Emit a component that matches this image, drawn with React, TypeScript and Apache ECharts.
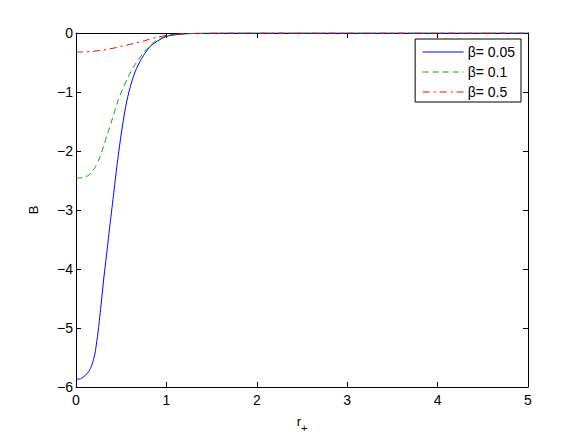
import React, { useEffect, useRef } from "react";
import * as echarts from "echarts";

const seriesNames = ["β= 0.05", "β= 0.1", "β= 0.5"];

const beta005: [number, number][] = [
  [0, -5.87], [0.05, -5.86], [0.1, -5.81], [0.14, -5.74], [0.175, -5.63], [0.21, -5.43],
  [0.25, -4.99], [0.285, -4.49], [0.31, -4.12], [0.335, -3.8], [0.372, -3.3], [0.413, -2.77],
  [0.457, -2.2], [0.505, -1.66], [0.553, -1.22], [0.597, -0.93], [0.653, -0.66], [0.727, -0.43],
  [0.82, -0.23], [0.93, -0.11], [1.02, -0.05], [1.2, -0.015], [1.5, -0.003], [2, 0], [3, 0], [4, 0], [5, 0],
];

const beta01: [number, number][] = [
  [0, -2.46], [0.08, -2.45], [0.13, -2.42], [0.17, -2.37], [0.21, -2.28], [0.265, -2.1],
  [0.34, -1.75], [0.413, -1.4], [0.468, -1.13], [0.524, -0.92], [0.58, -0.74], [0.634, -0.58],
  [0.745, -0.34], [0.855, -0.16], [1.0, -0.05], [1.2, -0.012], [1.5, -0.002], [2, 0], [3, 0], [4, 0], [5, 0],
];

const beta05: [number, number][] = [
  [0, -0.325], [0.16, -0.315], [0.34, -0.28], [0.55, -0.21], [0.76, -0.13], [0.9, -0.07],
  [1.07, -0.025], [1.3, -0.006], [1.6, 0], [2, 0], [3, 0], [4, 0], [5, 0],
];

const colors = ["#0000ff", "#00aa00", "#ff0000"];

export default function App() {
  const ref = useRef<HTMLDivElement>(null);
  useEffect(() => {
    if (!ref.current) return;
    const chart = echarts.init(ref.current, null, { renderer: "svg" });
    const font = "Liberation Sans, Arial, Helvetica, sans-serif";
    const minus = (v: number) => String(v).replace("-", "\u2212");
    const tickStyle = { show: true, inside: true, length: 5, lineStyle: { color: "#000", width: 1 } };
    const axisLine = { show: true, onZero: false, lineStyle: { color: "#000", width: 1 } };
    const mk = (i: number, data: [number, number][], type: any) => ({
      name: seriesNames[i], type: "line", data, showSymbol: false, symbol: "none",
      smooth: 0.25, color: colors[i], lineStyle: { width: 1, color: colors[i], type },
    });
    chart.setOption({
      animation: false,
      backgroundColor: "#fff",
      textStyle: { fontFamily: font },
      grid: { left: 76, right: 54, top: 33, bottom: 48, show: false },
      legend: {
        orient: "vertical",
        right: 61,
        top: 39,
        backgroundColor: "#fff",
        borderColor: "#000",
        borderWidth: 1,
        borderRadius: 0,
        padding: [6, 6, 3, 7],
        itemGap: 6,
        itemWidth: 41,
        itemHeight: 14,
        itemStyle: { opacity: 0 },
        lineStyle: { width: 1 },
        textStyle: { fontSize: 14, color: "#000", fontFamily: font, padding: [0, 0, 0, -1] },
        data: seriesNames,
      },
      xAxis: [
        {
          type: "value", min: 0, max: 5, interval: 1,
          axisLine, axisTick: tickStyle, splitLine: { show: false },
          axisLabel: { color: "#000", fontSize: 14, margin: 6, fontFamily: font },
          name: "{r|r}{s|+}",
          nameLocation: "middle",
          nameGap: 23,
          nameTextStyle: {
            rich: {
              r: { fontSize: 13, color: "#000", fontFamily: font },
              s: { fontSize: 11, color: "#000", fontFamily: font, padding: [12, 0, 0, 0] },
            },
          },
        },
        {
          type: "value", min: 0, max: 5, interval: 1, position: "top",
          axisLine, axisTick: tickStyle, axisLabel: { show: false }, splitLine: { show: false },
        },
      ],
      yAxis: [
        {
          type: "value", min: -6, max: 0, interval: 1,
          axisLine, axisTick: tickStyle, splitLine: { show: false },
          axisLabel: { color: "#000", fontSize: 14, margin: 3, fontFamily: font, formatter: minus },
          name: "B",
          nameLocation: "middle",
          nameGap: 36,
          nameTextStyle: { fontSize: 13, color: "#000", fontFamily: font },
        },
        {
          type: "value", min: -6, max: 0, interval: 1, position: "right",
          axisLine, axisTick: tickStyle, axisLabel: { show: false }, splitLine: { show: false },
        },
      ],
      series: [
        mk(0, beta005, "solid"),
        mk(1, beta01, [6, 4]),
        mk(2, beta05, [7, 4, 2, 4]),
      ],
    });
    return () => chart.dispose();
  }, []);
  return <div ref={ref} style={{ position: "fixed", left: 0, top: 0, width: 582, height: 438 }} />;
}
